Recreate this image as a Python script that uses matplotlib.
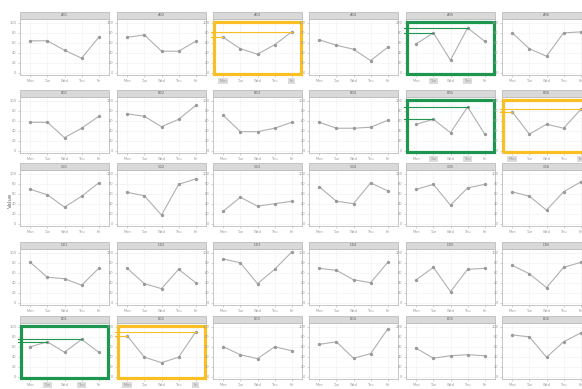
import matplotlib
matplotlib.use("Agg")
import matplotlib.pyplot as plt
from matplotlib.patches import Rectangle

# ---- data -------------------------------------------------------------
panel_titles = [
    "A01", "A02", "A03", "A04", "A05", "A06",
    "B01", "B02", "B03", "B04", "B05", "B06",
    "C01", "C02", "C03", "C04", "C05", "C06",
    "D01", "D02", "D03", "D04", "D05", "D06",
    "E01", "E02", "E03", "E04", "E05", "E06",
]
periods = ["Mon", "Tue", "Wed", "Thu", "Fri"]

row_a = [[64, 64, 45, 29, 71], [71, 76, 43, 43, 63], [71, 48, 37, 56, 82],
         [66, 55, 47, 24, 51], [58, 80, 25, 90, 63], [80, 48, 33, 80, 82]]
row_b = [[57, 57, 26, 45, 69], [74, 69, 48, 63, 91], [71, 38, 38, 45, 57],
         [57, 45, 45, 47, 61], [53, 63, 36, 88, 33], [78, 33, 53, 45, 83]]
row_c = [[69, 58, 33, 55, 82], [63, 56, 17, 79, 90], [25, 53, 35, 40, 45],
         [74, 45, 40, 82, 66], [69, 79, 37, 72, 79], [64, 55, 27, 64, 84]]
row_d = [[81, 51, 48, 35, 69], [69, 38, 28, 67, 40], [88, 80, 38, 67, 102],
         [69, 65, 46, 40, 81], [46, 71, 22, 67, 69], [75, 58, 30, 71, 81]]
row_e = [[60, 70, 49, 75, 49], [82, 39, 28, 39, 90], [60, 44, 36, 60, 52],
         [65, 70, 37, 46, 96], [57, 37, 42, 44, 42], [84, 80, 39, 70, 88]]
rows = [row_a, row_b, row_c, row_d, row_e]

y_ticks = [0, 20, 40, 60, 80, 100]
y_title = "Value"

# panels called out: (row, col) -> (colour, indices of marked points)
GREEN = "#1e9650"
ORANGE = "#fbbf26"
callouts = {
    (0, 2): (ORANGE, [0, 4]),
    (0, 4): (GREEN, [1, 3]),
    (1, 4): (GREEN, [1, 3]),
    (1, 5): (ORANGE, [0, 4]),
    (4, 0): (GREEN, [1, 3]),
    (4, 1): (ORANGE, [0, 4]),
}

# ---- layout (pixels) ---------------------------------------------------
W, H = 582, 389
col_left = [20, 117, 213, 309, 406, 502]
strip_top = [12, 90, 163, 242, 316]
panel_w, panel_h, strip_h = 89, 56, 7

fig = plt.figure(figsize=(W / 100, H / 100), dpi=100)
fig.patch.set_facecolor("white")

FS = 2.6
x = list(range(len(periods)))

for r, row in enumerate(rows):
    for c, vals in enumerate(row):
        top = strip_top[r] + strip_h
        ax = fig.add_axes([col_left[c] / W, 1 - (top + panel_h) / H,
                           panel_w / W, panel_h / H])
        ax.set_facecolor("white")
        ax.set_xlim(-0.6, 4.6)
        ax.set_ylim(-5, 108)
        ax.grid(True, color="#efefef", linewidth=0.4)
        ax.set_axisbelow(True)
        for s in ax.spines.values():
            s.set_color("#bdbdbd")
            s.set_linewidth(0.6)

        ax.plot(x, vals, color="#b0b0b0", linewidth=0.8, zorder=3)
        ax.plot(x, vals, "o", color="#9a9a9a", markersize=1.4, zorder=4)

        ax.set_xticks(x)
        ax.set_xticklabels(periods, fontsize=FS, color="#999999")
        ax.set_yticks(y_ticks)
        ax.set_yticklabels([str(t) for t in y_ticks], fontsize=FS, color="#999999")
        ax.tick_params(length=1.2, width=0.4, color="#b0b0b0", pad=1.5)

        # facet strip
        sh = strip_h / panel_h
        ax.add_patch(Rectangle((0, 1), 1, sh, transform=ax.transAxes,
                               facecolor="#d9d9d9", edgecolor="#bdbdbd",
                               linewidth=0.6, clip_on=False, zorder=5))
        ax.text(0.5, 1 + sh / 2, panel_titles[r * 6 + c], transform=ax.transAxes,
                ha="center", va="center", fontsize=FS, color="#666666",
                zorder=6)

        key = (r, c)
        if key in callouts:
            colour, idx = callouts[key]
            ax.add_patch(Rectangle((0.015, 0.02), 0.97, 0.93,
                                   transform=ax.transAxes, fill=False,
                                   edgecolor=colour, linewidth=2.3,
                                   clip_on=False, zorder=7))
            for i in idx:
                ax.plot([-0.72, x[i]], [vals[i], vals[i]], color=colour,
                        linewidth=0.8, clip_on=False, zorder=8)
                lab = ax.get_xticklabels()[i]
                lab.set_bbox(dict(facecolor="#dcdcdc", edgecolor="none",
                                  pad=0.8))

fig.text(10 / W, 1 - 200 / H, y_title, rotation=90, ha="center",
         va="center", fontsize=4, color="#666666")

fig.savefig("out.png", dpi=100)
